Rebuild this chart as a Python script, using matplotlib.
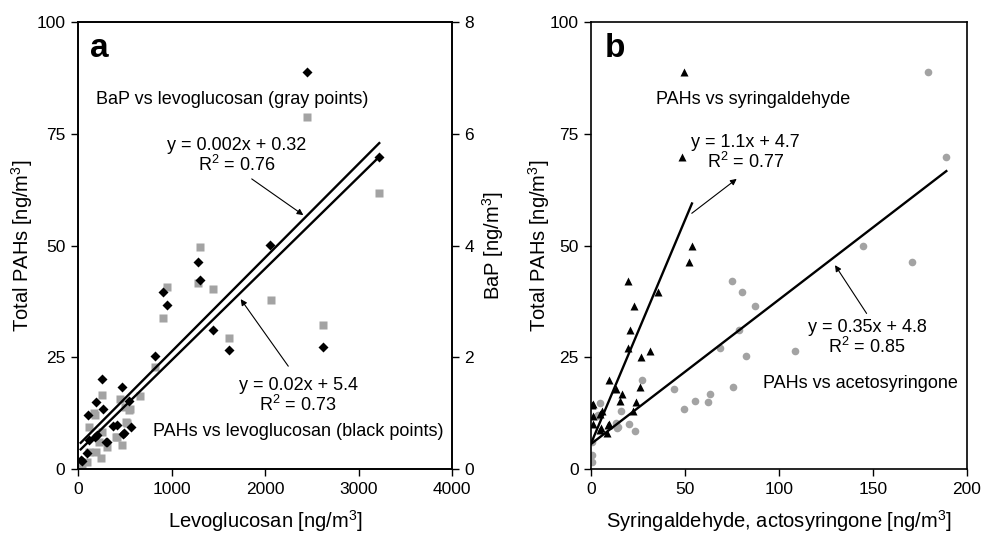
import numpy as np
import matplotlib
matplotlib.use("Agg")
import matplotlib.pyplot as plt

plt.rcParams['font.family'] = ['Liberation Sans', 'DejaVu Sans']
plt.rcParams['mathtext.fontset'] = 'custom'
plt.rcParams['mathtext.rm'] = 'Liberation Sans'
plt.rcParams['mathtext.it'] = 'Liberation Sans:italic'
plt.rcParams['mathtext.bf'] = 'Liberation Sans:bold'

# ---------------- Panel a data ----------------
# PAHs (black diamonds) vs levoglucosan
levo_pah_x = [2449, 3222, 1280, 2057, 1308, 909, 955, 1440, 1618, 2620, 827, 253, 474,
              189, 110, 271, 545, 563, 420, 492, 296, 206, 118, 100, 29, 378, 484, 182, 306, 40]
levo_pah_y = [88.8, 69.8, 46.4, 50.2, 42.3, 39.5, 36.6, 31.2, 26.6, 27.2, 25.3, 20.1, 18.3,
              15.1, 12.0, 13.4, 15.3, 9.5, 9.8, 8.0, 6.1, 7.6, 6.5, 3.5, 2.0, 9.7, 7.8, 7.2, 6.0, 1.8]
# BaP (gray squares) vs levoglucosan
levo_bap_x = [2450, 3222, 1308, 1280, 955, 1440, 909, 1618, 2060, 2620, 827, 253, 659,
              545, 510, 171, 118, 260, 420, 225, 313, 474, 118, 189, 243, 100, 29,
              449, 503, 556, 521, 182, 403, 40]
levo_bap_y = [6.30, 4.94, 3.97, 3.32, 3.25, 3.23, 2.70, 2.35, 3.02, 2.57, 1.82, 1.32, 1.30,
              1.06, 0.85, 1.00, 0.76, 0.66, 0.58, 0.49, 0.40, 0.43, 0.31, 0.31, 0.19, 0.13, 0.04,
              1.25, 1.11, 1.07, 0.83, 0.97, 0.58, 0.07]
# fitted lines as drawn (slope, intercept)
pah_levo_fit = (0.0205, 3.8)
bap_levo_fit = (0.00168, 0.42)

# ---------------- Panel b data ----------------
syr_x = [49.5, 48.2, 53.7, 52.3, 19.9, 35.5, 23.0, 20.7, 19.5, 31.4, 26.6, 9.8, 13.3, 16.3,
         26.1, 15.4, 23.8, 1.2, 5.7, 1.2, 9.8, 22.5, 5.2, 8.3, 0.9, 0.4, 4.8, 4.8, 9.2]
syr_y = [88.8, 69.7, 50.0, 46.3, 42.1, 39.5, 36.5, 31.1, 27.0, 26.5, 25.1, 19.9, 18.0, 16.8,
         18.3, 15.2, 14.9, 14.5, 13.0, 11.9, 10.1, 13.0, 9.1, 8.1, 10.1, 14.3, 12.4, 8.7, 9.8]
ace_x = [179, 189, 144.9, 170.6, 74.8, 80.5, 87.4, 78.7, 68.6, 82.3, 108.5, 27.1, 44.1, 75.5,
         63.1, 55.5, 62.4, 49.3, 23.6, 20.4, 15.8, 13.7, 13.3, 4.8, 3.0, 0.4, 0.4, 0.3, 3.9, 14.5]
ace_y = [88.8, 69.8, 50.0, 46.3, 42.1, 39.5, 36.5, 31.2, 27.1, 25.3, 26.5, 19.9, 17.9, 18.3,
         16.8, 15.2, 15.0, 13.4, 8.4, 10.1, 13.0, 9.2, 10.4, 14.7, 11.9, 6.1, 3.1, 1.5, 12.1, 9.5]
syr_fit = (1.0, 5.7)
ace_fit = (0.323, 5.6)

GRAY = '#a3a3a3'
FS_TICK = 12.5
FS_LAB = 14.5
FS_ANN = 13

fig = plt.figure(figsize=(9.82, 5.35), dpi=100)
axa = fig.add_axes([78/982, 66/535, 374/982, 447/535])
axb = fig.add_axes([591/982, 66/535, 376/982, 447/535])
axa2 = axa.twinx()

# ---- panel a ----
axa2.plot(levo_bap_x, levo_bap_y, 's', color=GRAY, ms=5.5, mec='none')
axa.plot(levo_pah_x, levo_pah_y, 'D', color='black', ms=5, mec='none')
xr = np.array([min(levo_pah_x), max(levo_pah_x)])
axa.plot(xr, pah_levo_fit[0]*xr + pah_levo_fit[1], color='black', lw=1.7)
axa2.plot(xr, bap_levo_fit[0]*xr + bap_levo_fit[1], color='black', lw=1.7)
axa.set_zorder(axa2.get_zorder() + 1)
axa.patch.set_visible(False)

axa.set_xlim(0, 4000)
axa.set_ylim(0, 100)
axa2.set_ylim(0, 8)
axa.set_xticks([0, 1000, 2000, 3000, 4000])
axa.set_yticks([0, 25, 50, 75, 100])
axa2.set_yticks([0, 2, 4, 6, 8])
axa.set_xlabel('Levoglucosan [ng/m$^3$]', fontsize=FS_LAB, labelpad=8)
axa.set_ylabel('Total PAHs [ng/m$^3$]', fontsize=FS_LAB, labelpad=1)
axa2.set_ylabel('BaP [ng/m$^3$]', fontsize=FS_LAB, labelpad=4)

axa.text(0.032, 0.922, 'a', transform=axa.transAxes, fontsize=24, fontweight='bold',
         va='baseline', ha='left')
axa.text(193, 82.6, 'BaP vs levoglucosan (gray points)', fontsize=FS_ANN, va='center', ha='left')
axa.text(1695, 70.0, 'y = 0.002x + 0.32\nR$^2$ = 0.76', fontsize=FS_ANN, va='center',
         ha='center', multialignment='center', linespacing=1.1)
axa.annotate('', xy=(2410, 56.8), xytext=(1858, 64.9),
             arrowprops=dict(arrowstyle='-|>', lw=0.8, color='black', mutation_scale=9,
                             shrinkA=0, shrinkB=0))
axa.text(2353, 16.3, 'y = 0.02x + 5.4\nR$^2$ = 0.73', fontsize=FS_ANN, va='center',
         ha='center', multialignment='center', linespacing=1.1)
axa.annotate('', xy=(1740, 38.0), xytext=(2249, 23.0),
             arrowprops=dict(arrowstyle='-|>', lw=0.8, color='black', mutation_scale=9,
                             shrinkA=0, shrinkB=0))
axa.text(802, 8.3, 'PAHs vs levoglucosan (black points)', fontsize=FS_ANN, va='center', ha='left')

# ---- panel b ----
axb.plot(ace_x, ace_y, 'o', color=GRAY, ms=5.5, mec='none')
axb.plot(syr_x, syr_y, '^', color='black', ms=6, mec='none')
xs = np.array([0, max(syr_x)])
axb.plot(xs, syr_fit[0]*xs + syr_fit[1], color='black', lw=1.7)
xa = np.array([0, max(ace_x)])
axb.plot(xa, ace_fit[0]*xa + ace_fit[1], color='black', lw=1.7)
axb.set_xlim(0, 200)
axb.set_ylim(0, 100)
axb.set_xticks([0, 50, 100, 150, 200])
axb.set_yticks([0, 25, 50, 75, 100])
axb.set_xlabel('Syringaldehyde, actosyringone [ng/m$^3$]', fontsize=FS_LAB, labelpad=8)
axb.set_ylabel('Total PAHs [ng/m$^3$]', fontsize=FS_LAB, labelpad=-2)

axb.text(0.037, 0.922, 'b', transform=axb.transAxes, fontsize=24, fontweight='bold',
         va='baseline', ha='left')
axb.text(34.6, 82.6, 'PAHs vs syringaldehyde', fontsize=FS_ANN, va='center', ha='left')
axb.text(82.3, 70.7, 'y = 1.1x + 4.7\nR$^2$ = 0.77', fontsize=FS_ANN, va='center',
         ha='center', multialignment='center', linespacing=1.1)
axb.annotate('', xy=(77.5, 64.9), xytext=(53.6, 57.2),
             arrowprops=dict(arrowstyle='-|>', lw=0.8, color='black', mutation_scale=9,
                             shrinkA=0, shrinkB=0))
axb.text(146.8, 29.3, 'y = 0.35x + 4.8\nR$^2$ = 0.85', fontsize=FS_ANN, va='center',
         ha='center', multialignment='center', linespacing=1.1)
axb.annotate('', xy=(129.8, 45.6), xytext=(146.6, 34.8),
             arrowprops=dict(arrowstyle='-|>', lw=0.8, color='black', mutation_scale=9,
                             shrinkA=0, shrinkB=0))
axb.text(91.5, 19.2, 'PAHs vs acetosyringone', fontsize=FS_ANN, va='center', ha='left')

for ax in (axa, axa2, axb):
    for sp in ax.spines.values():
        sp.set_linewidth(1.2)
    ax.tick_params(direction='out', length=5, width=1, labelsize=FS_TICK, pad=4)
axb.tick_params(top=False, right=False)

fig.savefig('out.png', dpi=100)
